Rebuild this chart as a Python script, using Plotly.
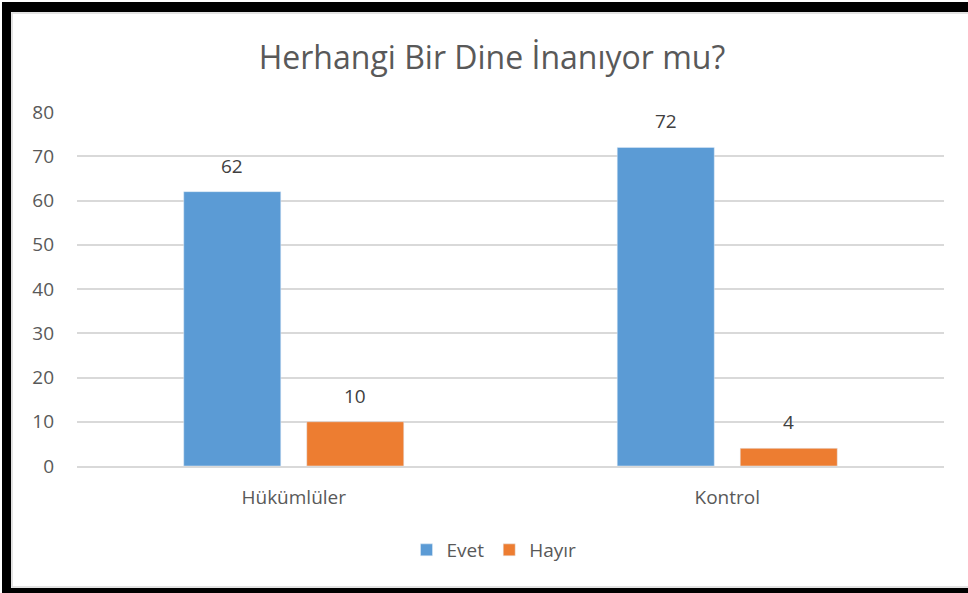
import plotly.graph_objects as go

categories = ["Hükümlüler", "Kontrol"]
evet = [62, 72]
hayir = [10, 4]
series_names = ["Evet", "Hayır"]
y_ticks = [0, 10, 20, 30, 40, 50, 60, 70, 80]
title_text = "Herhangi Bir Dine İnanıyor mu?"

W, H = 968, 593
L, R, T, B = 77, 968 - 944, 112, 593 - 466
pw, ph = W - L - R, H - T - B

def px(x):
    return (x - L) / pw

def py(y):
    return (H - B - y) / ph

FONT = "Open Sans"
GREY = "#595959"
FS = 19

fig = go.Figure()
fig.add_bar(x=categories, y=evet, name=series_names[0], marker_color="#5B9BD5")
fig.add_bar(x=categories, y=hayir, name=series_names[1], marker_color="#ED7D31")

annotations = []
for vals, shift in [(evet, -61.5), (hayir, 61.5)]:
    for c, v in zip(categories, vals):
        annotations.append(dict(x=c, y=v, xref="x", yref="y", text=str(v), showarrow=False,
                                xshift=shift, yshift=11, yanchor="bottom",
                                font=dict(size=FS, color="#404040", family=FONT)))

shapes = []
for x0, y0, x1, y1 in [(2, 2, 968, 12), (2, 2, 11, 593), (2, 588, 968, 593)]:
    shapes.append(dict(type="rect", xref="paper", yref="paper",
                       x0=px(x0), x1=px(x1), y0=py(y1), y1=py(y0),
                       fillcolor="black", line=dict(width=0), layer="above"))
shapes.append(dict(type="path", xref="paper", yref="paper",
                   path=f"M {px(968)} {py(13)} L {px(12)} {py(13)} L {px(12)} {py(587)} L {px(968)} {py(587)}",
                   line=dict(color="#d9d9d9", width=1.5)))

fig.update_layout(
    width=W, height=H,
    margin=dict(l=L, r=R, t=T, b=B),
    paper_bgcolor="white", plot_bgcolor="white",
    title=dict(text=title_text, x=492 / W, xanchor="center", y=1 - 58 / H, yanchor="middle",
               font=dict(size=32, color=GREY, family=FONT)),
    barmode="group", bargap=0.4325, bargroupgap=0.211,
    font=dict(family=FONT, color=GREY),
    showlegend=True,
    legend=dict(orientation="h", x=0.5 + (494 - (L + pw / 2)) / pw, xanchor="center",
                y=py(550), yanchor="middle", font=dict(size=FS, color=GREY, family=FONT),
                itemwidth=30, traceorder="normal"),
    shapes=shapes,
    annotations=annotations,
)
fig.update_yaxes(range=[0, 80], tickvals=y_ticks, showgrid=True, gridcolor="#d9d9d9", gridwidth=1.5,
                 zeroline=False, showline=False, ticks="", ticklabelstandoff=22,
                 tickfont=dict(size=FS, color=GREY, family=FONT))
fig.update_xaxes(showline=True, linecolor="#d9d9d9", linewidth=1.5, ticks="",
                 ticklabelstandoff=13, tickfont=dict(size=FS, color=GREY, family=FONT))

fig.write_html("out.html", config={"displayModeBar": False},
               post_script="document.body.style.margin='0';document.body.style.overflow='hidden';")
